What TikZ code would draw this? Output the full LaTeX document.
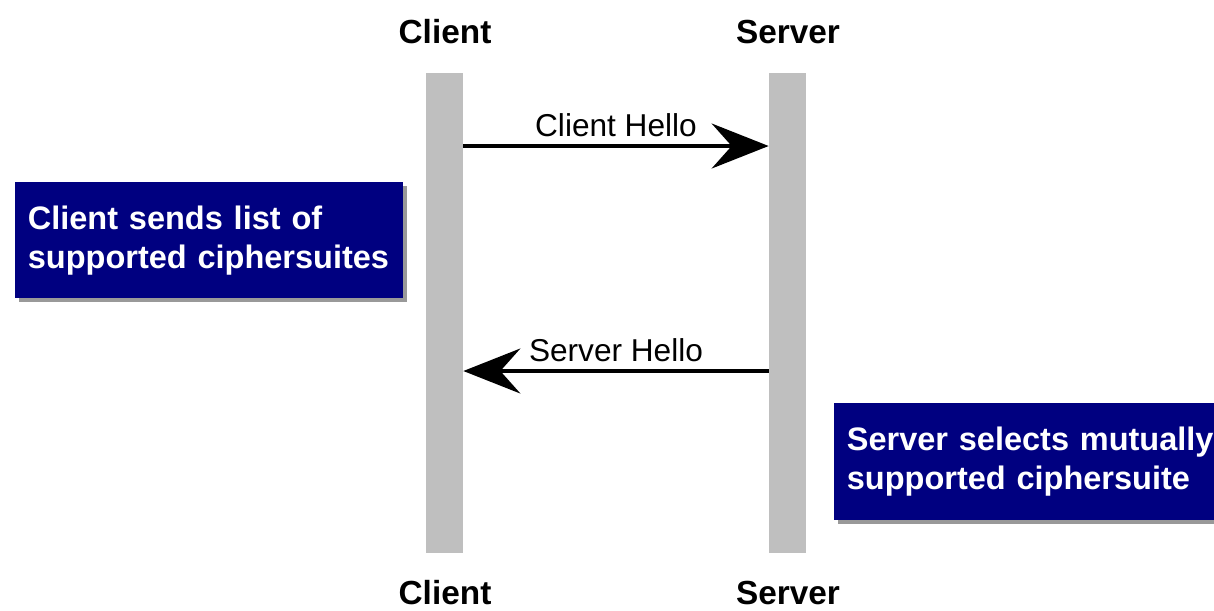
\documentclass[tikz,border=0pt]{standalone}
\usepackage{fontspec}
\setmainfont{Liberation Sans}
\usetikzlibrary{arrows.meta,shadows}

\definecolor{notebox}{HTML}{000080}
\tikzset{
    party/.style={font=\fontsize{19}{23}\selectfont\bfseries, anchor=base},
    lifeline/.style={fill=gray!50, minimum width=0.74cm, minimum height=9.6cm, inner sep=0pt},
    msg/.style={line width=2pt, -{Stealth[length=1.14cm, width=0.9cm, inset=0.4cm]}},
    msglabel/.style={font=\fontsize{18}{22}\selectfont, anchor=base, yshift=0.2cm},
    note/.style={fill=notebox, text=white, font=\fontsize{18.5}{22}\selectfont\bfseries,
	align=left, inner xsep=0.25cm, inner ysep=0pt, anchor=north west,
	drop shadow={shadow xshift=0.08cm, shadow yshift=-0.08cm, fill=black, opacity=0.4}}
}

\begin{document}
\begin{tikzpicture}[x=0.02cm, y=-0.02cm]
    \useasboundingbox (0,0) rectangle (1214,610);
    \node [lifeline] (cbar) at (444.5,313) {};
    \node [lifeline] (sbar) at (787.5,313) {};
    \node [party] (ctop) at (445,43) {Client};
    \node [party] (stop) at (788,43) {Server};
    \node [party] (cbot) at (445,604) {Client};
    \node [party] (sbot) at (788,604) {Server};
    \coordinate (hello1) at (0,146);
    \coordinate (hello2) at (0,371);
    \draw [msg] (cbar.east |- hello1) -- (sbar.west |- hello1)
	node [msglabel, midway] {Client Hello};
    \draw [msg] (sbar.west |- hello2) -- (cbar.east |- hello2)
	node [msglabel, midway] {Server Hello};
    \node [note, text width=7.26cm, minimum height=2.32cm] (cnote) at (15,182)
	{Client sends list of\\supported ciphersuites};
    \node [note, text width=7.9cm, minimum height=2.34cm] (snote) at (834,403)
	{Server selects mutually\\supported ciphersuite};
\end{tikzpicture}
\end{document}
